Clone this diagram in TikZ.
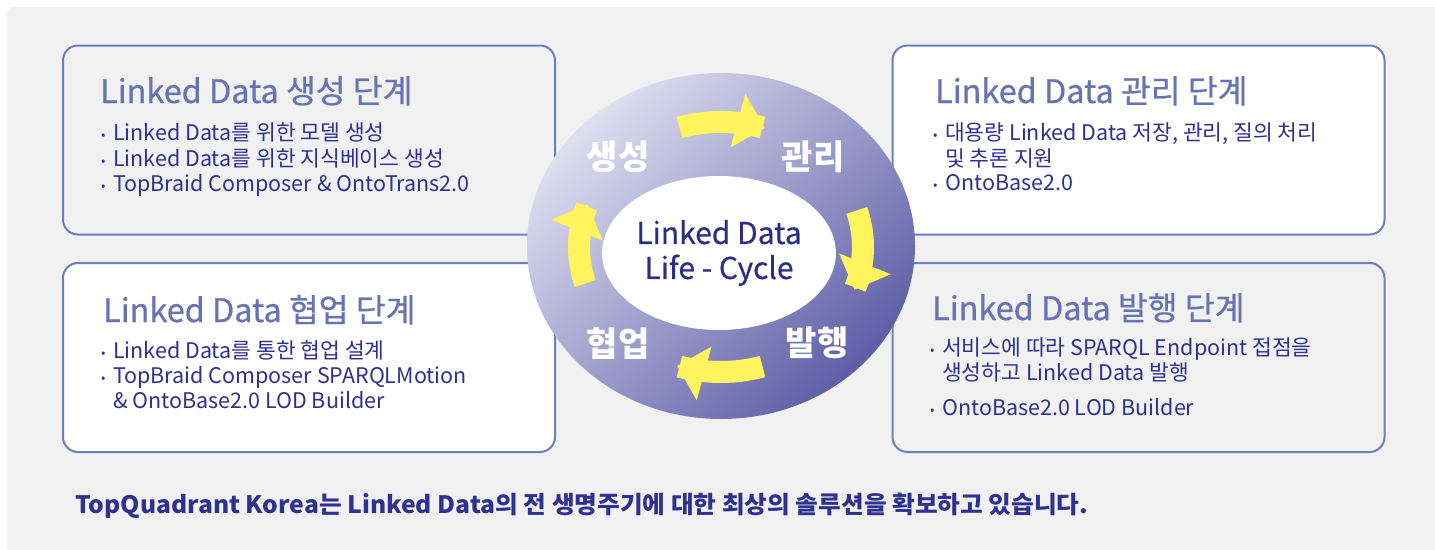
\documentclass[tikz,border=0pt]{standalone}
\usepackage{fontspec}
\usepackage{graphicx}
\setmainfont{Noto Sans CJK KR}
\usetikzlibrary{arrows.meta,shapes.geometric}
\definecolor{bgc}{HTML}{F1F1F1}
\definecolor{bord}{HTML}{6E7DBE}
\definecolor{titc}{HTML}{6773B3}
\definecolor{txtc}{HTML}{2E3190}
\definecolor{corec}{HTML}{2B2E86}
\definecolor{ylw}{HTML}{FFF35E}
\definecolor{cirL}{HTML}{DEDEF0}
\definecolor{cirD}{HTML}{5E5EA8}
\newsavebox\btbox
\newcommand\bl[1]{\makebox[12pt][l]{\raisebox{1pt}{\fontsize{13}{13}\selectfont•}}#1}
\newcommand\cont[1]{\hspace*{12pt}#1}
\begin{document}
\begin{tikzpicture}[x=1pt,y=-1pt,
  panel/.style={draw=bord, line width=2pt, rounded corners=15pt, minimum width=492pt, minimum height=189pt, inner sep=0pt},
  ttl/.style={anchor=base west, text=titc, font=\fontsize{32.4}{32}\selectfont\addfontfeature{FakeBold=0.6}, inner sep=0pt},
  itm/.style={anchor=base west, text=txtc, font=\fontsize{21.5}{21}\selectfont, inner sep=0pt},
  stage/.style={text=white, font=\fontsize{34}{34}\selectfont\bfseries, inner sep=0pt},
  yarr/.style={draw=ylw, line width=22pt, -{Triangle[width=54pt 0 0,length=28pt 0 0]}}]
\useasboundingbox (0,0) rectangle (1435,549);
\fill[bgc, rounded corners=6pt] (7,7) rectangle (1445,559);
% panels
\node[panel, fill=bgc] (p1) at (309,140) {};
\node[panel, fill=white] (p2) at (1138.5,140) {};
\node[panel, fill=white] (p3) at (309,357.5) {};
\node[panel, fill=bgc] (p4) at (1138.5,357.5) {};
% cycle
\node[ellipse, minimum width=388pt, minimum height=346pt, inner sep=0pt,
  top color=cirL, bottom color=cirD, shading angle=45] (cyc) at (721,246) {};
\node[ellipse, fill=white, minimum width=204pt, minimum height=154pt, inner sep=0pt,
  align=center, text=corec, font=\fontsize{30}{35}\selectfont\addfontfeature{FakeBold=0.5}] (core) at (719,253) {Linked Data\\Life - Cycle};
% arrows
\draw[yarr] plot[domain=-107:-72,samples=30,smooth] ({721+142*cos(\x)},{247+125*sin(\x)});
\draw[yarr] plot[domain=-17:20,samples=30,smooth] ({721+142*cos(\x)},{247+125*sin(\x)});
\draw[yarr] plot[domain=73:108,samples=30,smooth] ({721+142*cos(\x)},{247+125*sin(\x)});
\draw[yarr] plot[domain=163:200,samples=30,smooth] ({721+142*cos(\x)},{247+125*sin(\x)});
% stage labels
\node[stage] (s1) at (618,157) {생성};
\node[stage] (s2) at (813,157) {관리};
\node[stage] (s3) at (618,343) {협업};
\node[stage] (s4) at (817,343) {발행};
% panel 1
\node[ttl] (t1) at (100,103) {Linked Data 생성 단계};
\node[itm] (a1) at (101,140) {\bl{Linked Data를 위한 모델 생성}};
\node[itm] (a2) at (101,166) {\bl{Linked Data를 위한 지식베이스 생성}};
\node[itm] (a3) at (101,191) {\bl{TopBraid Composer \& OntoTrans2.0}};
% panel 2
\node[ttl] (t2) at (935,103) {Linked Data 관리 단계};
\node[itm] (b1) at (933,140) {\bl{대용량 Linked Data 저장, 관리, 질의 처리}};
\node[itm] (b2) at (933,166) {\cont{및 추론 지원}};
\node[itm] (b3) at (933,190) {\bl{OntoBase2.0}};
% panel 3
\node[ttl] (t3) at (103,322) {Linked Data 협업 단계};
\node[itm] (c1) at (101,358) {\bl{Linked Data를 통한 협업 설계}};
\node[itm] (c2) at (101,383) {\bl{TopBraid Composer SPARQLMotion}};
\node[itm] (c3) at (101,408) {\cont{\& OntoBase2.0 LOD Builder}};
% panel 4
\node[ttl] (t4) at (932,320) {Linked Data 발행 단계};
\node[itm] (d1) at (930,355) {\bl{서비스에 따라 SPARQL Endpoint 접점을}};
\node[itm] (d2) at (930,380) {\cont{생성하고 Linked Data 발행}};
\node[itm] (d3) at (930,415) {\bl{OntoBase2.0 LOD Builder}};
% bottom
\node[anchor=base west, inner sep=0pt, text=txtc] (bt) at (75,513) {\sbox\btbox{\fontsize{24}{24}\selectfont\bfseries TopQuadrant Korea는 Linked Data의 전 생명주기에 대한 최상의 솔루션을 확보하고 있습니다.}\pgfmathsetmacro\sc{1013pt/\wd\btbox}\scalebox{\sc}[1]{\usebox\btbox}};
\end{tikzpicture}
\end{document}
